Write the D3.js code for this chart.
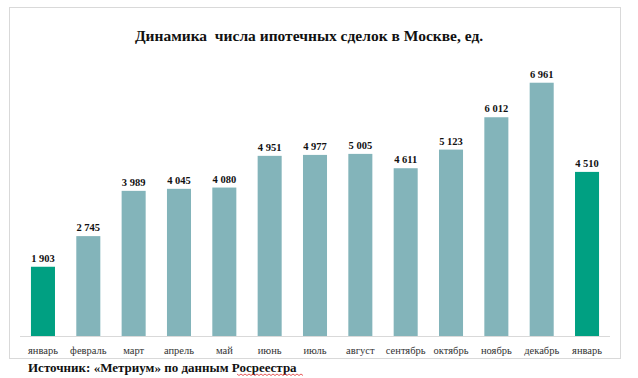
<!DOCTYPE html>
<html>
<head>
<meta charset="utf-8">
<script src="https://cdn.jsdelivr.net/npm/d3@7"></script>
<style>
  body { margin: 0; background: #fff; }
  svg text { font-family: "Liberation Serif", "Times New Roman", "DejaVu Serif", serif; }
</style>
</head>
<body>
<div id="chart"></div>
<script>
// Months (Jan previous year .. Jan current year)
const months = ["январь", "февраль", "март", "апрель", "май", "июнь", "июль",
                "август", "сентябрь", "октябрь", "ноябрь", "декабрь", "январь"];
const deals = [1903, 2745, 3989, 4045, 4080, 4951, 4977, 5005, 4611, 5123, 6012, 6961, 4510];
// which bars are highlighted (the two Januaries)
const highlight = [true, false, false, false, false, false, false, false, false, false, false, false, true];

const width = 638, height = 378;
const serif = "'Liberation Serif', 'Times New Roman', 'DejaVu Serif', serif";

const svg = d3.select("#chart")
  .append("svg")
  .attr("width", width)
  .attr("height", height);

// light frame around the chart area
svg.append("rect")
  .attr("x", 9.5).attr("y", 7.5)
  .attr("width", 611).attr("height", 351)
  .attr("fill", "none")
  .attr("stroke", "#d9d9d9")
  .attr("stroke-width", 1);

// title
svg.append("text")
  .attr("x", 309)
  .attr("y", 41)
  .attr("text-anchor", "middle")
  .attr("font-family", serif)
  .style("font-size", "15.5px")
  .style("font-weight", "bold")
  .attr("fill", "#111")
  .attr("xml:space", "preserve")
  .text("Динамика  числа ипотечных сделок в Москве, ед.");

// scales
const x = d3.scaleBand()
  .domain(d3.range(months.length))
  .range([20.3, 609.7])
  .paddingInner(0.47)
  .paddingOuter(0.235);

const y = d3.scaleLinear()
  .domain([0, 7000])
  .range([336, 81.3]);

// bars
svg.append("g")
  .selectAll("rect")
  .data(deals)
  .join("rect")
  .attr("x", (d, i) => x(i))
  .attr("y", d => y(d))
  .attr("width", x.bandwidth())
  .attr("height", d => y(0) - y(d))
  .attr("fill", (d, i) => highlight[i] ? "#00a082" : "#83b4ba");

// value labels
const fmt = d => d3.format(",")(d).replace(",", " ");
svg.append("g")
  .selectAll("text")
  .data(deals)
  .join("text")
  .attr("x", (d, i) => x(i) + x.bandwidth() / 2)
  .attr("y", d => y(d) - 5)
  .attr("text-anchor", "middle")
  .attr("font-family", serif)
  .style("font-size", "10.5px")
  .style("font-weight", "bold")
  .attr("fill", "#111")
  .text(fmt);

// x axis (baseline + month labels)
const xAxis = svg.append("g")
  .attr("transform", `translate(0,${y(0)})`)
  .call(d3.axisBottom(x).tickSize(0).tickPadding(11).tickFormat(i => months[i]))
  .attr("font-family", serif);

xAxis.select(".domain").attr("stroke", "#d9d9d9").attr("d", "M20,0.5H610");
xAxis.selectAll("text")
  .style("font-size", "10.5px")
  .attr("fill", "#333");

// source line below the frame
svg.append("text")
  .attr("x", 28)
  .attr("y", 372)
  .attr("font-family", serif)
  .style("font-size", "13px")
  .style("font-weight", "bold")
  .attr("fill", "#111")
  .text("Источник: «Метриум» по данным Росреестра");

// red spell-check squiggle under the last word
const squiggle = d3.range(237, 304, 2).map((px, k) => [px, 374.5 + (k % 2 ? 1 : -0.5)]);
svg.append("path")
  .attr("d", d3.line()(squiggle))
  .attr("fill", "none")
  .attr("stroke", "#e03030")
  .attr("stroke-width", 0.8);
</script>
</body>
</html>
